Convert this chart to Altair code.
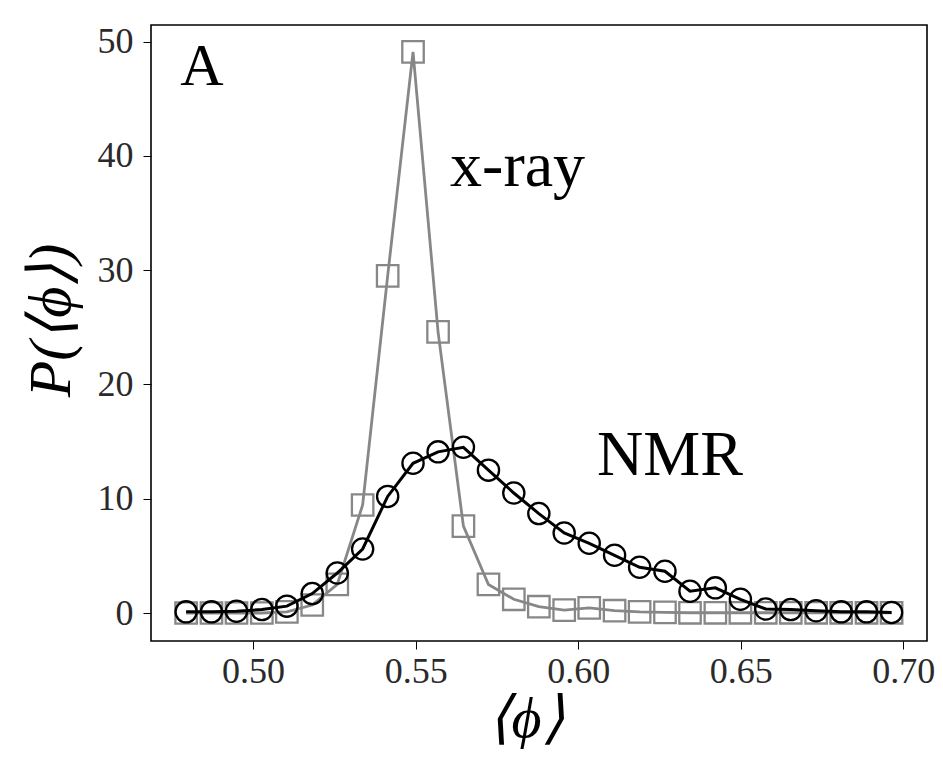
import altair as alt
import pandas as pd

# bin centres of <phi>
phi = [0.4794, 0.4872, 0.4949, 0.5027, 0.5104, 0.5182, 0.5259, 0.5337, 0.5414, 0.5492,
       0.5569, 0.5647, 0.5724, 0.5802, 0.5879, 0.5957, 0.6034, 0.6112, 0.6189, 0.6267,
       0.6344, 0.6422, 0.6499, 0.6577, 0.6654, 0.6732, 0.6809, 0.6887, 0.6964]

nmr = [0.1, 0.1, 0.15, 0.3, 0.6, 1.7, 3.5, 5.6, 10.2, 13.1,
       14.1, 14.5, 12.5, 10.5, 8.7, 7.0, 6.1, 5.05, 4.0, 3.65,
       1.9, 2.2, 1.2, 0.35, 0.3, 0.2, 0.1, 0.1, 0.05]

xray = [0.0, 0.0, 0.0, 0.0, 0.1, 0.7, 2.5, 9.45, 29.5, 49.1,
        24.6, 7.6, 2.5, 1.2, 0.55, 0.25, 0.45, 0.2, 0.1, 0.05,
        0.02, 0.02, 0.02, 0.02, 0.02, 0.02, 0.02, 0.02, 0.02]

x_ticks = [0.50, 0.55, 0.60, 0.65, 0.70]
y_ticks = [0, 10, 20, 30, 40, 50]

labels = ["A", "x-ray", "NMR"]
label_x = [0.4776, 0.5606, 0.6058]
label_y = [46.2, 37.4, 12.1]

GRAY = "#878787"
SERIF = "Liberation Serif"

df_nmr = pd.DataFrame({"phi": phi, "P": nmr})
df_xray = pd.DataFrame({"phi": phi, "P": xray})
df_lab = pd.DataFrame({"text": labels, "x": label_x, "y": label_y})

xs = alt.Scale(domain=[0.4686, 0.7073], nice=False, zero=False)
ys = alt.Scale(domain=[-2.45, 51.45], nice=False, zero=False)

x_enc = alt.X("phi:Q", scale=xs, axis=alt.Axis(
    values=x_ticks, format=".2f", title="⟨ϕ⟩",
    titleFont=SERIF, titleFontSize=58, titleFontStyle="italic", titleFontWeight="normal",
    titleColor="black", titleX=375, titleY=78, titleBaseline="middle", titleAlign="center",
    labelFont=SERIF, labelFontSize=36, labelColor="#2a2a2a", labelPadding=5,
    tickSize=8, tickColor="black", tickWidth=1, domain=False, grid=False))
y_enc = alt.Y("P:Q", scale=ys, axis=alt.Axis(
    values=y_ticks, format="d", title="P(⟨ϕ⟩)",
    titleFont=SERIF, titleFontSize=60, titleFontStyle="italic", titleFontWeight="normal",
    titleColor="black", titleX=-100, titleY=295, titleBaseline="middle", titleAlign="center",
    titleAngle=270,
    labelFont=SERIF, labelFontSize=36, labelColor="#2a2a2a", labelPadding=10,
    tickSize=8, tickColor="black", tickWidth=1, domain=False, grid=False))

xray_line = alt.Chart(df_xray).mark_line(color=GRAY, strokeWidth=2.8).encode(x=x_enc, y=y_enc)
xray_pts = alt.Chart(df_xray).mark_point(shape="square", filled=False, color=GRAY,
                                          strokeWidth=2.3, size=460, opacity=1).encode(x="phi:Q", y="P:Q")
nmr_line = alt.Chart(df_nmr).mark_line(color="black", strokeWidth=3).encode(x="phi:Q", y="P:Q")
nmr_pts = alt.Chart(df_nmr).mark_point(shape="circle", filled=False, color="black",
                                        strokeWidth=2.3, size=450, opacity=1).encode(x="phi:Q", y="P:Q")

lab_a = alt.Chart(df_lab[df_lab.text == "A"]).mark_text(
    font=SERIF, fontSize=60, align="left", baseline="alphabetic", color="black"
).encode(x="x:Q", y="y:Q", text="text:N")

lab_big = alt.Chart(df_lab[df_lab.text != "A"]).mark_text(
    font=SERIF, fontSize=64, align="left", baseline="alphabetic", color="black"
).encode(x="x:Q", y="y:Q", text="text:N")

chart = alt.layer(xray_line, xray_pts, nmr_line, nmr_pts, lab_a, lab_big).properties(
    width=776, height=616,
    autosize=alt.AutoSizeParams(type="none"),
    padding={"left": 143, "top": 17, "right": 8, "bottom": 114},
    background="white",
).configure_view(stroke="black", strokeWidth=1.6)

chart.save("out.html", embed_options={"renderer": "svg", "actions": False})
